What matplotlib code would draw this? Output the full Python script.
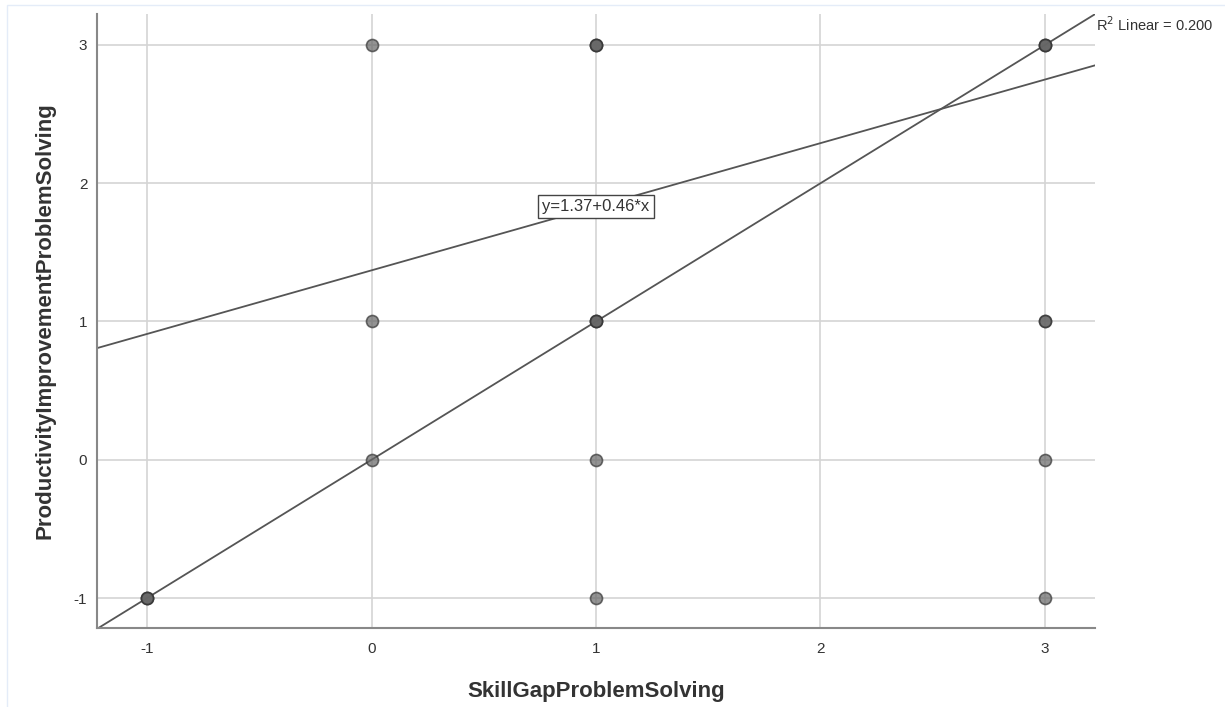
import numpy as np
import matplotlib.pyplot as plt
from matplotlib.patches import Rectangle

plt.rcParams['font.family'] = ['Liberation Sans', 'DejaVu Sans']
plt.rcParams['axes.unicode_minus'] = False

# observed points (duplicates drawn on top of each other look darker)
skill_gap = [0, 1, 1, 1, 3, 3, 3, 0, 1, 1, 1, 3, 3, 0, 1, 3, -1, -1, -1, 1, 3]
productivity = [3, 3, 3, 3, 3, 3, 3, 1, 1, 1, 1, 1, 1, 0, 0, 0, -1, -1, -1, -1, -1]
intercept = 1.37
slope = 0.46
r2_text = "R$^2$ Linear = 0.200"
ticks = [-1, 0, 1, 2, 3]

fig = plt.figure(figsize=(12.25, 7.07), dpi=100)
fig.patches.append(Rectangle((0.006, -0.01), 1.0, 1.003, transform=fig.transFigure,
                             fill=False, edgecolor="#e4ecf8", linewidth=1))
ax = fig.add_axes([0.0792, 0.1117, 0.8147, 0.8685])

xlo, xhi = -1.223, 3.223
ylo, yhi = -1.217, 3.224
ax.set_xlim(xlo, xhi)
ax.set_ylim(ylo, yhi)

ax.grid(True, color="#d4d4d4", linewidth=1.2)
ax.set_axisbelow(True)

xs = np.array([xlo, xhi])
ax.plot(xs, xs, color="#555555", linewidth=1.3, zorder=2)
ax.plot(xs, intercept + slope * xs, color="#555555", linewidth=1.3, zorder=2)

ax.scatter(skill_gap, productivity, s=75, color="#666666", alpha=0.7,
           edgecolors="#333333", linewidths=1.2, zorder=3)

ax.text(1, intercept + slope * 1, "y=1.37+0.46*x", ha="center", va="center",
        fontsize=12, color="#333333", zorder=4,
        bbox=dict(boxstyle="square,pad=0.25", facecolor="white", edgecolor="#444444", linewidth=1))
ax.text(1.001, 0.982, r2_text, transform=ax.transAxes, ha="left", va="center",
        fontsize=10.5, color="#333333", clip_on=False)

for side in ["top", "right"]:
    ax.spines[side].set_visible(False)
for side in ["left", "bottom"]:
    ax.spines[side].set_color("#888888")
    ax.spines[side].set_linewidth(1.5)

ax.set_xticks(ticks)
ax.set_yticks(ticks)
ax.tick_params(length=0, labelsize=11, labelcolor="#333333")
ax.tick_params(axis="x", pad=10)
ax.tick_params(axis="y", pad=7)

ax.set_xlabel("SkillGapProblemSolving", fontsize=16, fontweight="bold", color="#333333", labelpad=18)
ax.set_ylabel("ProductivityImprovementProblemSolving", fontsize=16, fontweight="bold", color="#333333", labelpad=13)

fig.savefig("out.png", dpi=100)
